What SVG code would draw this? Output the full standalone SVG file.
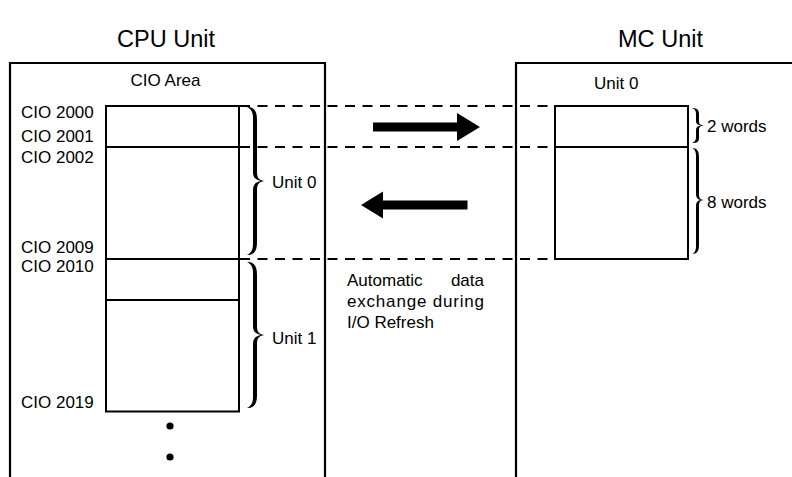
<svg xmlns="http://www.w3.org/2000/svg" width="792" height="477" viewBox="0 0 792 477">
<style>
text{font-family:"Liberation Sans",Arial,sans-serif;font-size:17px;fill:#000}
.title{font-size:23px}
.box{fill:none;stroke:#000;stroke-width:2}
.outer{fill:none;stroke:#000;stroke-width:2.2}
.dash{fill:none;stroke:#000;stroke-width:2;stroke-dasharray:10 7.5}
.brace{fill:#000;stroke:none}
.arrow{fill:#000}
</style>
<rect width="792" height="477" fill="#fff"/>
<g id="cpu-unit">
<text class="title" x="117" y="47" textLength="98" lengthAdjust="spacingAndGlyphs">CPU Unit</text>
<path class="outer" d="M10,480 V63 H325 V480"/>
<text x="165.5" y="86" text-anchor="middle">CIO Area</text>
</g>
<g id="cio-column">
<rect class="box" x="106" y="106" width="133" height="305.5"/>
<line class="box" x1="106" y1="147" x2="239" y2="147"/>
<line class="box" x1="106" y1="259" x2="239" y2="259"/>
<line class="box" x1="106" y1="300" x2="239" y2="300"/>
<text x="21" y="118">CIO 2000</text>
<text x="21" y="142">CIO 2001</text>
<text x="21" y="163">CIO 2002</text>
<text x="21" y="253">CIO 2009</text>
<text x="21" y="272">CIO 2010</text>
<text x="21" y="408">CIO 2019</text>
<circle cx="170" cy="426" r="3.6"/>
<circle cx="170" cy="457" r="3.6"/>
</g>
<g id="unit0-brace">
<path class="brace" d="M247,107 C255,107 257,112 257,120 L257,172 C257,178 259,180 264,181 C259,182 257,184 257,190 L257,242 C257,250 255,255 247,255 C251,253 253,250 253,244 L253,190 C253,184 256,182 261,181 C256,180 253,178 253,172 L253,118 C253,112 251,109 247,107 Z"/>
<text x="272" y="188">Unit 0</text>
</g>
<g id="unit1-brace">
<path class="brace" d="M247,262 C255,262 257,267 257,275 L257,326 C257,332 259,334 264,335 C259,336 257,338 257,344 L257,395 C257,403 255,408 247,408 C251,406 253,403 253,397 L253,344 C253,338 256,336 261,335 C256,334 253,332 253,326 L253,273 C253,267 251,264 247,262 Z"/>
<text x="272" y="344">Unit 1</text>
</g>
<g id="mc-unit">
<text class="title" x="618" y="47" textLength="85" lengthAdjust="spacingAndGlyphs">MC Unit</text>
<path class="outer" d="M516,480 V63 H795"/>
<text x="594" y="89">Unit 0</text>
</g>
<g id="mc-column">
<rect class="box" x="555" y="106" width="133" height="153"/>
<line class="box" x1="555" y1="147" x2="688" y2="147"/>
</g>
<g id="words2">
<path class="brace" d="M692,108 C697,108 699,110 699,114 L699,121 C699,124 700,125 704,125.5 C700,126 699,127 699,130 L699,138 C699,142 697,143 692,143 C695,142 696,140 696,137 L696,130 C696,127 698,126 701,125.5 C698,125 696,124 696,121 L696,114 C696,111 695,109 692,108 Z"/>
<text x="707" y="132">2 words</text>
</g>
<g id="words8">
<path class="brace" d="M692,148 C697,148 699,151 699,157 L699,194 C699,198 700,199.5 704,200 C700,200.5 699,202 699,206 L699,245 C699,251 697,254 692,254 C695,253 696,250 696,246 L696,206 C696,202 698,200.5 701,200 C698,199.5 696,198 696,194 L696,156 C696,152 695,149 692,148 Z"/>
<text x="707" y="208">8 words</text>
</g>
<g id="connectors">
<line class="dash" x1="240" y1="106" x2="555" y2="106"/>
<line class="dash" x1="240" y1="147" x2="555" y2="147"/>
<line class="dash" x1="240" y1="259" x2="555" y2="259"/>
<polygon class="arrow" points="373,122.5 457,122.5 457,113 480,127 457,141 457,131.5 373,131.5"/>
<polygon class="arrow" points="467.5,200.5 383,200.5 383,191.5 361,205 383,218.5 383,209.5 467.5,209.5"/>
</g>
<g id="exchange-label">
<text x="347" y="286">Automatic</text>
<text x="484" y="286" text-anchor="end">data</text>
<text x="347" y="307" textLength="137">exchange during</text>
<text x="347" y="328">I/O Refresh</text>
</g>
</svg>
